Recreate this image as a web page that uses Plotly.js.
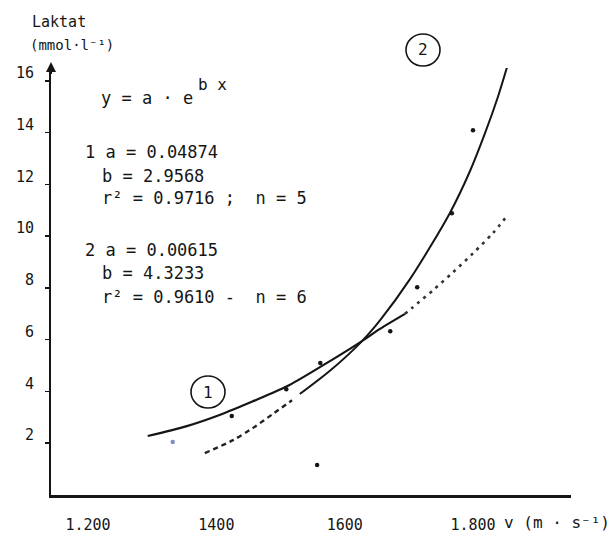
<!DOCTYPE html>
<html>
<head>
<meta charset="utf-8">
<script src="https://cdn.plot.ly/plotly-3.0.1.min.js"></script>
<style>
  html, body { margin: 0; padding: 0; background: #fff; }
  #chart { width: 614px; height: 537px; }
</style>
</head>
<body>
<div id="chart"></div>
<script>
// Curve 1: fitted lactate curve (solid) and its extrapolation (dotted)
const curve1Speed   = [1.293, 1.354, 1.406, 1.457, 1.510, 1.562, 1.624, 1.655, 1.694];
const curve1Lactate = [2.28, 2.66, 3.10, 3.62, 4.20, 4.95, 5.90, 6.42, 7.00];
const curve1ExtSpeed   = [1.694, 1.706, 1.738, 1.769, 1.800, 1.831, 1.850];
const curve1ExtLactate = [7.00, 7.25, 7.92, 8.61, 9.34, 10.12, 10.69];

// Curve 2: fitted lactate curve (solid) and its downward extrapolation (dashed)
const curve2Speed   = [1.530, 1.577, 1.624, 1.655, 1.702, 1.764, 1.795, 1.819, 1.839, 1.855];
const curve2Lactate = [3.90, 4.80, 5.87, 6.75, 8.35, 10.90, 12.50, 14.00, 15.40, 16.70];
const curve2ExtSpeed   = [1.382, 1.426, 1.457, 1.488, 1.518];
const curve2ExtLactate = [1.62, 2.12, 2.59, 3.13, 3.66];

// Measured values
const pointSpeed   = [1.424, 1.509, 1.562, 1.671, 1.713, 1.767, 1.800, 1.853, 1.557];
const pointLactate = [3.05, 4.09, 5.10, 6.33, 8.03, 10.89, 14.09, 16.72, 1.16];
const extraSpeed   = [1.332];
const extraLactate = [2.05];

// Axis ticks
const xTickVals  = [1.2, 1.4, 1.6, 1.8];
const xTickText  = ['1.200', '1400', '1600', '1.800'];
const yTickVals  = [2, 4, 6, 8, 10, 12, 14, 16];

// Regression parameters
const fit1 = {a: '0.04874', b: '2.9568', r2: '0.9716', n: '5'};
const fit2 = {a: '0.00615', b: '4.3233', r2: '0.9610', n: '6'};

const ink = '#151515';
const mono = '"DejaVu Sans Mono", monospace';

const traces = [
  {x: curve1Speed, y: curve1Lactate, mode: 'lines', line: {color: ink, width: 2.2, shape: 'spline', smoothing: 0.8}},
  {x: curve1ExtSpeed, y: curve1ExtLactate, mode: 'lines', line: {color: '#333', width: 2.6, dash: '3px,5px', shape: 'spline', smoothing: 0.8}},
  {x: curve2Speed, y: curve2Lactate, mode: 'lines', line: {color: ink, width: 2, shape: 'spline', smoothing: 0.8}},
  {x: curve2ExtSpeed, y: curve2ExtLactate, mode: 'lines', line: {color: '#222', width: 2.4, dash: '5px,4px', shape: 'spline', smoothing: 0.8}},
  {x: pointSpeed, y: pointLactate, mode: 'markers', marker: {color: ink, size: 4.5}},
  {x: extraSpeed, y: extraLactate, mode: 'markers', marker: {color: '#7d8fc4', size: 4.5}}
];

// pixel helpers for text placed in the plot frame
const L = 51, R = 571, T = 68, B = 495;
const px = v => (v - L) / (R - L);
const py = v => (B - v) / (B - T);

function txt(text, x, y, size, anchor) {
  return {text: text, xref: 'paper', yref: 'paper', x: px(x), y: py(y),
          xanchor: anchor || 'left', yanchor: 'middle', showarrow: false,
          font: {family: mono, size: size, color: ink}};
}

const annotations = [
  txt('Laktat', 30, 22, 15),
  txt('(mmol·l⁻¹)', 28, 45, 14),
  txt('y = a · e', 99, 98, 17),
  txt('b x', 196, 84, 16),
  txt('1 a = ' + fit1.a, 83, 152, 17),
  txt('b = ' + fit1.b, 100, 176, 17),
  txt('r² = ' + fit1.r2 + ' ;  n = ' + fit1.n, 100, 198, 17),
  txt('2 a = ' + fit2.a, 83, 250, 17),
  txt('b = ' + fit2.b, 100, 273, 17),
  txt('r² = ' + fit2.r2 + ' -  n = ' + fit2.n, 100, 297, 17),
  txt('v (m · s⁻¹)', 502, 522, 16),
  txt('1', 208, 392, 16, 'center'),
  txt('2', 423, 50, 16, 'center'),
  // arrowhead on top of the lactate axis
  {xref: 'paper', yref: 'paper', x: 0, y: py(62), ax: 0, ay: 22, showarrow: true,
   arrowhead: 2, arrowsize: 1, arrowwidth: 2, arrowcolor: ink, text: ' '}
];

function ring(cx, cy, rx, ry) {
  return {type: 'circle', xref: 'paper', yref: 'paper', xsizemode: 'pixel', ysizemode: 'pixel',
          xanchor: px(cx), yanchor: py(cy), x0: -rx, x1: rx, y0: -ry, y1: ry,
          line: {color: ink, width: 1.6}};
}

const layout = {
  width: 614, height: 537,
  margin: {l: L, r: 614 - R, t: T, b: 537 - B},
  paper_bgcolor: '#fff', plot_bgcolor: '#fff',
  showlegend: false,
  xaxis: {
    range: [1.1423, 1.9527], showgrid: false, zeroline: false,
    showline: true, linecolor: ink, linewidth: 2.6,
    tickvals: xTickVals, ticktext: xTickText, ticks: '',
    ticklabelstandoff: 14,
    tickfont: {family: mono, size: 15, color: ink}
  },
  yaxis: {
    range: [0, 16.5], showgrid: false, zeroline: false,
    showline: true, linecolor: ink, linewidth: 2,
    tickvals: yTickVals, ticks: 'outside', ticklen: 4, tickwidth: 1.5, tickcolor: ink,
    ticklabelshift: -8, ticklabelstandoff: 8,
    tickfont: {family: mono, size: 15, color: ink}
  },
  annotations: annotations,
  shapes: [ring(208, 392, 17, 16), ring(423, 50, 17, 16)]
};

Plotly.newPlot('chart', traces, layout, {staticPlot: true, displayModeBar: false});
</script>
</body>
</html>
